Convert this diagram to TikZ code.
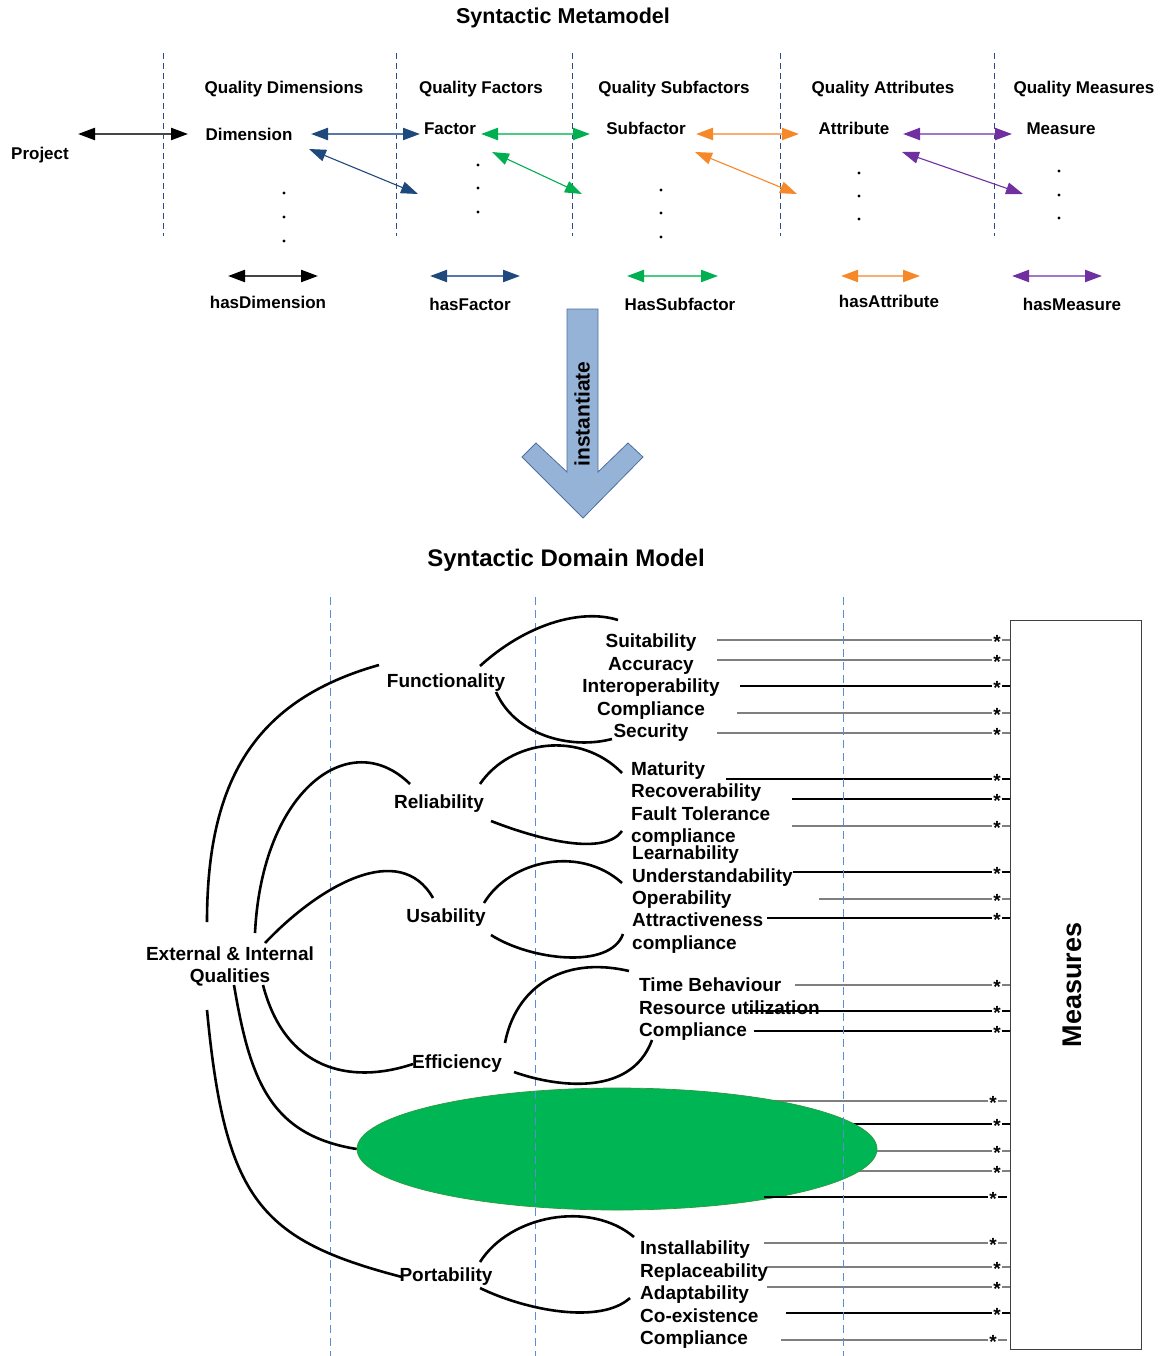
\documentclass[tikz,border=0pt]{standalone}
\usepackage{fontspec}
\setmainfont{Liberation Sans}
\usetikzlibrary{arrows.meta,shapes.geometric}

\definecolor{blued}{HTML}{1F497D}
\definecolor{bluel}{HTML}{5677A8}
\definecolor{greend}{HTML}{00B050}
\definecolor{greenl}{HTML}{4CCB85}
\definecolor{oranged}{HTML}{F7882A}
\definecolor{orangel}{HTML}{F9AD6E}
\definecolor{purpled}{HTML}{7030A0}
\definecolor{purplel}{HTML}{A178C8}
\definecolor{blackl}{HTML}{454545}
\definecolor{topdash}{HTML}{2B4C86}
\definecolor{lowdash}{HTML}{5B8DD6}
\definecolor{ellgreen}{HTML}{00B554}
\definecolor{elledge}{HTML}{2E9A3E}
\definecolor{instfill}{HTML}{95B3D7}
\definecolor{instedge}{HTML}{4F6F9F}
\definecolor{lgray}{HTML}{7F7F7F}
\definecolor{boxc}{HTML}{404040}

\tikzset{
  ttl/.style={font=\bfseries\fontsize{21.5}{24}\selectfont, inner sep=0pt},
  ttlb/.style={font=\bfseries\fontsize{24}{27}\selectfont, inner sep=0pt},
  hd/.style={font=\bfseries\fontsize{17}{20}\selectfont, inner sep=0pt, text height=12.2pt, text depth=0pt},
  ql/.style={font=\bfseries\fontsize{19}{22}\selectfont, inner sep=0pt, text height=13.7pt, text depth=0pt},
  qlw/.style={ql, anchor=west},
  rel/.style n args={2}{line width=2.2pt, draw=#2, arrows={Triangle[length=17pt,width=12pt,color=#1]-Triangle[length=17pt,width=12pt,color=#1]}},
  diag/.style={line width=1.1pt, draw=#1, arrows={Triangle[length=17pt,width=12pt,color=#1]-Triangle[length=17pt,width=12pt,color=#1]}},
  topsep/.style={draw=topdash, line width=0.9pt, dash pattern=on 6pt off 4pt},
  lowsep/.style={draw=lowdash, line width=0.9pt, dash pattern=on 8pt off 5pt},
  crv/.style={draw=black, line width=2.6pt},
  mline/.style={line width=1.5pt},
  starn/.style={font=\bfseries\fontsize{19}{22}\selectfont, inner sep=0pt, anchor=base},
}

\begin{document}
\begin{tikzpicture}[x=1pt,y=-1pt]
\useasboundingbox (0,0) rectangle (1161,1356);

% ---------------- metamodel ----------------
\node[ttl] (mmtitle) at (563,18) {Syntactic Metamodel};

\foreach \x in {163,396,572,780,994}
  \draw[topsep] (\x,53) -- (\x,236);

\node[hd] (hdim) at (284,87) {Quality Dimensions};
\node[hd] (hfac) at (481,87) {Quality Factors};
\node[hd] (hsub) at (674,87) {Quality Subfactors};
\node[hd] (hatt) at (883,87) {Quality Attributes};
\node[hd] (hmea) at (1084,87) {Quality Measures};

\node[hd] (proj) at (40,153) {Project};
\node[hd] (dim) at (249,134) {Dimension};
\node[hd] (fac) at (450,128) {Factor};
\node[hd] (sub) at (646,128) {Subfactor};
\node[hd] (att) at (854,128) {Attribute};
\node[hd] (mea) at (1061,128) {Measure};

\draw[rel={black}{blackl}] (78,134) -- (188,134);
\draw[rel={blued}{bluel}] (311,134) -- (420,134);
\draw[diag=blued] (309,149) -- (418,194);
\draw[rel={greend}{greenl}] (481,134) -- (590,134);
\draw[diag=greend] (492,152) -- (582,194);
\draw[rel={oranged}{orangel}] (696,134) -- (799,134);
\draw[diag=oranged] (695,152) -- (797,194);
\draw[rel={purpled}{purplel}] (903,134) -- (1012,134);
\draw[diag=purpled] (902,152) -- (1023,194);

% continuation dots
\foreach \x/\a/\b/\c in {284/193/217/241, 478/165/188/212, 661/190/213/237, 859/173/196/219, 1059/171/195/218}
  \foreach \y in {\a,\b,\c} \fill (\x,\y) circle (1.6);

% legend
\draw[rel={black}{blackl}] (228,276) -- (318,276);
\node[hd] (lgdim) at (268,302) {hasDimension};
\draw[rel={blued}{bluel}] (430,276) -- (520,276);
\node[hd] (lgfac) at (470,304) {hasFactor};
\draw[rel={greend}{greenl}] (627,276) -- (718,276);
\node[hd] (lgsub) at (680,304) {HasSubfactor};
\draw[rel={oranged}{orangel}] (841,276) -- (920,276);
\node[hd] (lgatt) at (889,301) {hasAttribute};
\draw[rel={purpled}{purplel}] (1012,276) -- (1102,276);
\node[hd] (lgmea) at (1072,304) {hasMeasure};

% ---------------- instantiate arrow ----------------
\draw[fill=instfill, draw=instedge, line width=0.8pt]
  (567,309) -- (598,309) -- (598,472) -- (628,443) -- (643,457) -- (583,518)
  -- (522,457) -- (536,443) -- (567,472) -- cycle;
\node[font=\bfseries\fontsize{21}{24}\selectfont, rotate=90, inner sep=0pt] (inst) at (582,414) {instantiate};

% ---------------- domain model ----------------
\node[ttlb] (dmtitle) at (566,560) {Syntactic Domain Model};

\node[draw=boxc, line width=1pt, minimum width=131pt, minimum height=729pt, inner sep=0pt] (meas) at (1075.5,984.5) {};
\node[font=\bfseries\fontsize{27}{30}\selectfont, rotate=90, inner sep=0pt] (meastxt) at (1072,985) {Measures};

% links to the measures box (those hidden by the ellipse first)
\foreach \y/\x/\c/\d in {
  640/717/lgray/0, 660/717/lgray/0, 686/740/black/0, 713/737/lgray/0, 733/717/lgray/0,
  779/726/black/0, 799/792/black/0, 826/792/lgray/0,
  872/793/black/0, 899/819/lgray/0, 918/767/black/0,
  985/795/lgray/0, 1011/748/black/0, 1031/754/black/0,
  1101/700/lgray/-4, 1124/700/black/0, 1151/700/lgray/0, 1171/700/lgray/0,
  1243/764/lgray/-4, 1267/766/lgray/0, 1287/767/lgray/0, 1313/786/black/0, 1340/781/lgray/-4}{
  \draw[mline, draw=\c] (\x,\y) -- (992+\d,\y);
  \node[starn] at (997+\d,\y+8) {*};
  \draw[mline, draw=\c] (1002+\d,\y) -- (1010+0.75*\d,\y);
}

\node[ellipse, fill=ellgreen, draw=elledge, line width=0.7pt, minimum width=520pt, minimum height=122pt, inner sep=0pt] (ell) at (617,1149) {};

\draw[mline, draw=black] (764,1197) -- (988,1197);
\node[starn] at (993,1205) {*};
\draw[mline, draw=black] (998,1197) -- (1007,1197);

\foreach \x in {330,535,843}
  \draw[lowsep] (\x,597) -- (\x,1356);

% quality names
\node[ql, align=center, text height=, text depth=] (qual) at (230,966) {External \& Internal\\Qualities};
\node[ql] (func) at (446,681) {Functionality};
\node[ql] (rel) at (439,802) {Reliability};
\node[ql] (usa) at (446,916) {Usability};
\node[ql] (eff) at (457,1062) {Efficiency};
\node[ql] (por) at (446,1275) {Portability};

% subcharacteristics
\node[ql] (s1) at (651,641) {Suitability};
\node[ql] (s2) at (651,664) {Accuracy};
\node[ql] (s3) at (651,686) {Interoperability};
\node[ql] (s4) at (651,709) {Compliance};
\node[ql] (s5) at (651,731) {Security};

\node[qlw] (r1) at (631,769) {Maturity};
\node[qlw] (r2) at (631,791) {Recoverability};
\node[qlw] (r3) at (631,814) {Fault Tolerance};
\node[qlw] (r4) at (631,836) {compliance};

\node[qlw] (u1) at (632,853) {Learnability};
\node[qlw] (u2) at (632,876) {Understandability};
\node[qlw] (u3) at (632,898) {Operability};
\node[qlw] (u4) at (632,920) {Attractiveness};
\node[qlw] (u5) at (632,943) {compliance};

\node[qlw] (e1) at (639,985) {Time Behaviour};
\node[qlw] (e2) at (639,1008) {Resource utilization};
\node[qlw] (e3) at (639,1030) {Compliance};

\node[qlw] (p1) at (640,1248) {Installability};
\node[qlw] (p2) at (640,1271) {Replaceability};
\node[qlw] (p3) at (640,1293) {Adaptability};
\node[qlw] (p4) at (640,1316) {Co-existence};
\node[qlw] (p5) at (640,1338) {Compliance};

% curves from the qualities root
\draw[crv] (207,922) .. controls (207,780) and (255,700) .. (379,665);
\draw[crv] (255,933) .. controls (262,790) and (350,725) .. (410,784);
\draw[crv] (265,943) .. controls (320,885) and (400,840) .. (433,898);
\draw[crv] (263,985) .. controls (285,1070) and (350,1085) .. (413,1064);
\draw[crv] (234,985) .. controls (250,1080) and (270,1135) .. (ell.west);
\draw[crv] (207,1010) .. controls (225,1200) and (260,1240) .. (402,1277);

% curves to the subcharacteristics
\draw[crv] (480,666) .. controls (525,625) and (580,608) .. (618,620);
\draw[crv] (496,692) .. controls (515,735) and (570,750) .. (612,739);
\draw[crv] (480,784) .. controls (510,740) and (580,730) .. (622,773);
\draw[crv] (491,821) .. controls (545,842) and (605,855) .. (622,831);
\draw[crv] (484,903) .. controls (510,860) and (580,845) .. (622,883);
\draw[crv] (491,935) .. controls (530,960) and (610,970) .. (623,934);
\draw[crv] (505,1043) .. controls (515,990) and (560,955) .. (629,971);
\draw[crv] (514,1072) .. controls (550,1085) and (630,1100) .. (652,1040);
\draw[crv] (480,1262) .. controls (510,1215) and (590,1200) .. (634,1237);
\draw[crv] (480,1288) .. controls (525,1310) and (600,1325) .. (630,1298);

\end{tikzpicture}
\end{document}
